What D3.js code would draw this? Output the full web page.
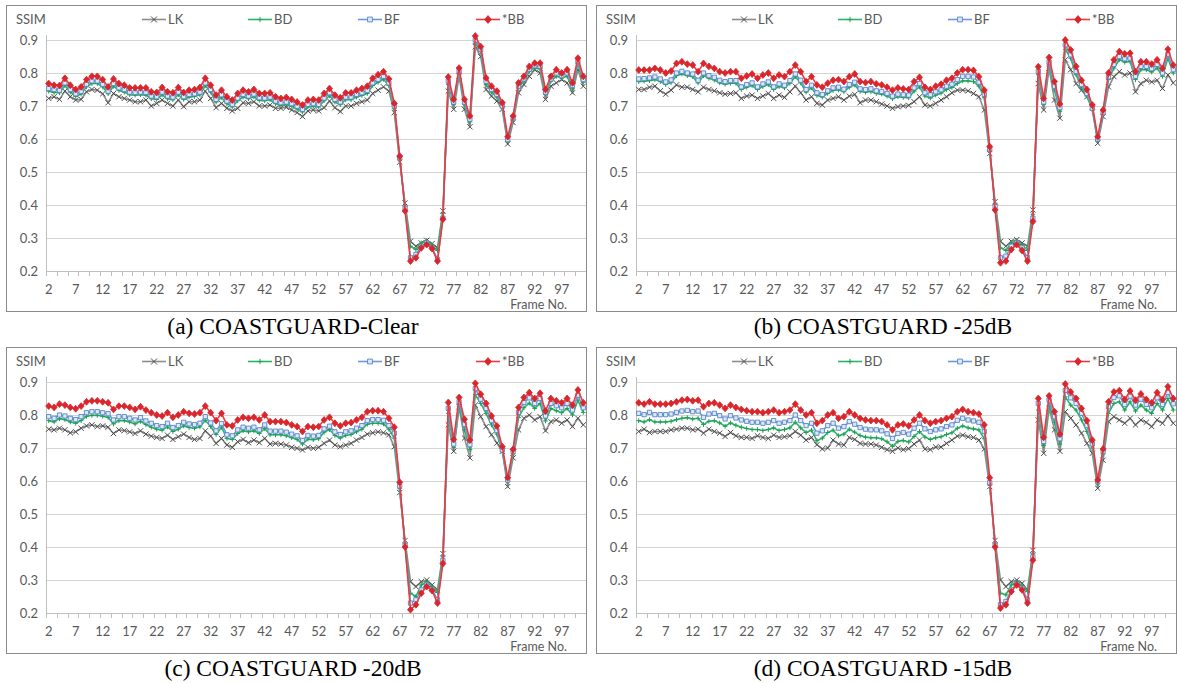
<!DOCTYPE html>
<html>
<head>
<meta charset="utf-8">
<script src="https://cdn.jsdelivr.net/npm/d3@7"></script>
<style>
  body { margin: 0; background: #fff; }
  svg { display: block; }
  .lbl { font-family: Lato, "Open Sans", sans-serif; font-size: 13px; fill: #595959; }
  .caption { font-family: "Liberation Serif", "Times New Roman", serif; font-size: 23.5px; fill: #000; }
</style>
</head>
<body>
<svg id="chart" width="1177" height="683"></svg>
<script>
// frames on the category axis
const frames = d3.range(2, 102);
const xTickLabels = [2, 7, 12, 17, 22, 27, 32, 37, 42, 47, 52, 57, 62, 67, 72, 77, 82, 87, 92, 97];
const yTicks = [0.2, 0.3, 0.4, 0.5, 0.6, 0.7, 0.8, 0.9];
const seriesNames = ['LK', 'BD', 'BF', '*BB'];
const captions = ['(a) COASTGUARD-Clear', '(b) COASTGUARD -25dB', '(c) COASTGUARD -20dB', '(d) COASTGUARD -15dB'];

// ---- (a) Clear
const lkA = [.723,.728,.720,.745,.728,.718,.720,.743,.750,.748,
  .737,.710,.738,.728,.723,.718,.713,.713,.718,.700,
  .708,.718,.708,.700,.718,.698,.713,.713,.718,.745,
  .723,.695,.708,.693,.685,.693,.710,.708,.713,.700,
  .700,.703,.693,.693,.696,.688,.680,.668,.685,.688,
  .685,.695,.715,.695,.683,.700,.700,.708,.713,.718,
  .738,.748,.758,.745,.680,.530,.406,.290,.275,.285,
  .293,.283,.270,.382,.745,.690,.790,.690,.637,.880,
  .850,.750,.730,.715,.690,.585,.650,.740,.765,.790,
  .810,.800,.720,.760,.770,.780,.770,.740,.810,.760];
const bdA = [.745,.741,.740,.762,.742,.729,.736,.758,.768,.768,
  .758,.737,.760,.747,.742,.734,.733,.734,.733,.722,
  .720,.734,.722,.719,.734,.720,.727,.729,.734,.762,
  .742,.712,.726,.707,.697,.716,.727,.722,.728,.717,
  .716,.719,.707,.702,.704,.699,.691,.682,.697,.699,
  .697,.716,.731,.712,.704,.719,.719,.727,.732,.738,
  .762,.772,.781,.762,.693,.540,.395,.275,.265,.285,
  .292,.278,.262,.375,.765,.705,.800,.705,.652,.890,
  .865,.765,.742,.727,.695,.595,.660,.755,.775,.805,
  .815,.812,.735,.775,.790,.785,.790,.752,.828,.772];
const bfA = [.753,.750,.748,.770,.750,.737,.744,.766,.776,.776,
  .766,.745,.768,.755,.750,.742,.741,.742,.741,.730,
  .728,.742,.730,.727,.742,.728,.735,.737,.742,.770,
  .750,.720,.734,.715,.705,.724,.735,.730,.736,.725,
  .724,.727,.715,.710,.712,.707,.699,.690,.705,.707,
  .705,.724,.740,.720,.712,.727,.727,.735,.740,.747,
  .770,.781,.790,.770,.700,.545,.390,.240,.250,.275,
  .285,.270,.235,.360,.775,.712,.805,.712,.660,.900,
  .872,.775,.750,.735,.700,.598,.665,.760,.782,.812,
  .822,.820,.742,.782,.800,.792,.800,.762,.835,.780];
const bbA = [.768,.763,.762,.784,.763,.750,.758,.780,.790,.790,
  .780,.758,.782,.768,.763,.755,.755,.755,.755,.743,
  .741,.756,.743,.740,.756,.741,.748,.750,.756,.784,
  .763,.733,.748,.728,.718,.738,.748,.743,.750,.738,
  .738,.740,.728,.723,.726,.720,.712,.703,.718,.720,
  .718,.738,.753,.733,.725,.740,.740,.748,.753,.760,
  .784,.795,.804,.782,.708,.548,.382,.230,.240,.270,
  .280,.268,.230,.357,.788,.720,.815,.720,.670,.912,
  .880,.785,.760,.745,.710,.607,.670,.770,.790,.820,
  .830,.830,.750,.790,.810,.800,.810,.770,.845,.790];

// ---- (b) -25dB
const lkB = [.750,.750,.757,.760,.746,.736,.748,.764,.757,.757,
  .750,.743,.757,.750,.746,.740,.736,.738,.740,.723,
  .730,.733,.723,.730,.738,.723,.733,.726,.743,.760,
  .740,.718,.728,.708,.703,.718,.723,.728,.718,.730,
  .735,.710,.718,.718,.713,.706,.700,.693,.698,.700,
  .702,.713,.728,.703,.700,.708,.718,.728,.740,.748,
  .748,.746,.738,.728,.688,.556,.410,.290,.275,.290,
  .295,.285,.275,.385,.768,.688,.814,.718,.663,.840,
  .810,.768,.748,.728,.698,.587,.668,.758,.789,.804,
  .794,.800,.743,.768,.778,.773,.778,.753,.794,.770];
const bdB = [.774,.775,.777,.780,.774,.765,.771,.792,.797,.792,
  .789,.770,.792,.784,.779,.770,.766,.769,.769,.750,
  .757,.762,.750,.759,.765,.750,.759,.755,.769,.789,
  .770,.742,.755,.732,.727,.738,.747,.749,.743,.757,
  .764,.744,.742,.744,.738,.736,.730,.722,.728,.726,
  .725,.745,.758,.730,.724,.733,.739,.750,.756,.768,
  .776,.776,.774,.760,.725,.565,.400,.270,.262,.285,
  .292,.280,.262,.372,.795,.705,.825,.748,.684,.872,
  .845,.795,.755,.730,.688,.595,.675,.780,.815,.840,
  .833,.835,.780,.810,.810,.803,.815,.790,.845,.800];
const bfB = [.782,.783,.785,.788,.782,.773,.779,.800,.805,.800,
  .797,.778,.800,.792,.787,.778,.774,.777,.777,.758,
  .765,.770,.758,.767,.773,.758,.767,.763,.777,.797,
  .778,.750,.763,.740,.735,.746,.755,.757,.751,.765,
  .772,.752,.750,.752,.746,.744,.738,.730,.736,.734,
  .733,.755,.768,.740,.734,.743,.749,.760,.766,.780,
  .790,.790,.788,.772,.735,.570,.395,.240,.245,.275,
  .285,.270,.240,.360,.805,.712,.833,.760,.695,.885,
  .855,.805,.765,.738,.693,.600,.680,.788,.826,.850,
  .843,.845,.790,.820,.820,.813,.826,.800,.857,.810];
const bbB = [.809,.809,.809,.814,.809,.800,.806,.829,.834,.827,
  .824,.804,.829,.820,.814,.804,.800,.804,.804,.784,
  .791,.797,.784,.794,.800,.784,.794,.789,.804,.824,
  .804,.774,.789,.764,.757,.769,.778,.780,.774,.789,
  .797,.774,.771,.774,.767,.764,.757,.748,.755,.752,
  .750,.774,.787,.757,.750,.760,.766,.778,.784,.800,
  .810,.810,.808,.789,.748,.577,.385,.225,.230,.265,
  .280,.262,.230,.350,.819,.723,.847,.774,.706,.900,
  .870,.820,.778,.750,.703,.607,.688,.800,.840,.865,
  .858,.860,.804,.834,.834,.827,.840,.814,.872,.824];

// ---- (c) -20dB
const lkC = [.757,.755,.760,.755,.746,.749,.760,.767,.770,.765,
  .767,.763,.744,.755,.753,.749,.744,.752,.742,.736,
  .732,.729,.739,.726,.734,.742,.732,.726,.729,.752,
  .736,.714,.729,.709,.702,.719,.726,.716,.724,.716,
  .729,.712,.714,.712,.709,.702,.699,.694,.702,.699,
  .702,.714,.724,.709,.704,.709,.714,.724,.732,.742,
  .746,.749,.746,.740,.704,.565,.420,.295,.280,.295,
  .300,.285,.270,.380,.770,.690,.825,.730,.670,.830,
  .795,.765,.740,.715,.690,.583,.670,.755,.790,.800,
  .785,.795,.752,.780,.785,.775,.785,.765,.790,.770];
const bdC = [.783,.779,.789,.786,.779,.775,.783,.796,.799,.799,
  .796,.793,.773,.783,.783,.779,.773,.781,.771,.763,
  .757,.754,.764,.750,.757,.767,.762,.760,.764,.784,
  .765,.741,.763,.729,.726,.744,.752,.749,.752,.744,
  .759,.740,.740,.740,.737,.731,.726,.712,.727,.725,
  .728,.748,.756,.738,.730,.738,.741,.749,.757,.772,
  .775,.775,.773,.757,.730,.578,.410,.260,.250,.285,
  .295,.280,.262,.372,.805,.702,.825,.755,.695,.862,
  .835,.805,.770,.742,.690,.598,.682,.792,.822,.836,
  .820,.835,.782,.820,.813,.807,.820,.800,.845,.808];
const bfC = [.795,.790,.800,.797,.790,.786,.795,.807,.810,.810,
  .807,.804,.785,.795,.795,.790,.785,.792,.782,.775,
  .768,.765,.775,.762,.768,.778,.773,.771,.775,.795,
  .776,.752,.774,.740,.737,.755,.763,.760,.763,.755,
  .770,.751,.751,.751,.748,.742,.737,.723,.738,.736,
  .738,.758,.766,.749,.741,.749,.752,.760,.768,.783,
  .786,.786,.784,.768,.745,.585,.405,.230,.240,.270,
  .285,.272,.240,.360,.820,.712,.840,.772,.710,.880,
  .848,.820,.783,.753,.694,.603,.690,.808,.838,.852,
  .835,.850,.797,.835,.828,.822,.835,.815,.860,.822];
const bbC = [.827,.823,.833,.830,.823,.819,.827,.840,.843,.843,
  .840,.837,.817,.827,.827,.823,.817,.825,.815,.807,
  .800,.797,.807,.793,.800,.810,.805,.803,.807,.827,
  .807,.783,.805,.770,.767,.785,.793,.790,.793,.785,
  .800,.780,.780,.780,.777,.770,.765,.750,.765,.763,
  .765,.785,.793,.775,.767,.775,.777,.785,.793,.810,
  .813,.813,.810,.790,.763,.596,.400,.210,.225,.260,
  .280,.268,.230,.350,.838,.726,.853,.787,.724,.896,
  .863,.835,.797,.767,.704,.610,.696,.823,.853,.868,
  .850,.866,.812,.850,.843,.837,.850,.830,.876,.837];

// ---- (d) -15dB
const lkD = [.750,.757,.747,.750,.750,.750,.755,.757,.760,.760,
  .755,.757,.745,.757,.750,.745,.735,.747,.737,.732,
  .732,.729,.737,.732,.729,.739,.732,.734,.737,.750,
  .739,.724,.732,.710,.697,.700,.724,.712,.709,.732,
  .726,.714,.712,.712,.709,.702,.695,.690,.700,.695,
  .698,.712,.724,.697,.695,.703,.703,.714,.724,.736,
  .739,.734,.732,.724,.697,.583,.420,.300,.280,.295,
  .300,.290,.270,.390,.785,.684,.820,.755,.690,.810,
  .790,.770,.745,.714,.684,.578,.663,.780,.795,.785,
  .775,.790,.770,.785,.778,.765,.785,.775,.797,.775];
const bdD = [.783,.779,.786,.779,.779,.779,.781,.786,.790,.792,
  .788,.790,.771,.781,.783,.776,.766,.776,.769,.763,
  .759,.756,.756,.753,.756,.761,.753,.756,.761,.778,
  .761,.747,.754,.722,.730,.747,.754,.737,.742,.757,
  .748,.738,.733,.731,.731,.728,.719,.705,.720,.723,
  .718,.735,.750,.733,.726,.731,.734,.741,.746,.760,
  .767,.761,.758,.755,.728,.588,.410,.260,.255,.285,
  .295,.282,.265,.380,.815,.708,.830,.778,.712,.855,
  .830,.815,.785,.750,.700,.592,.682,.805,.835,.840,
  .815,.840,.812,.830,.815,.805,.835,.815,.850,.815];
const bfD = [.805,.801,.808,.801,.801,.801,.803,.808,.812,.814,
  .810,.812,.793,.803,.805,.798,.788,.798,.791,.785,
  .781,.778,.778,.775,.778,.783,.775,.778,.783,.800,
  .783,.768,.775,.745,.752,.768,.775,.760,.765,.780,
  .772,.762,.757,.755,.755,.752,.743,.729,.744,.747,
  .742,.760,.775,.758,.750,.755,.758,.765,.770,.784,
  .790,.785,.782,.778,.750,.595,.405,.225,.235,.270,
  .288,.275,.240,.370,.835,.720,.845,.795,.728,.875,
  .852,.835,.805,.768,.712,.598,.690,.825,.853,.858,
  .832,.857,.830,.848,.832,.822,.852,.832,.868,.834];
const bbD = [.837,.833,.840,.833,.833,.833,.835,.840,.845,.847,
  .843,.845,.825,.835,.837,.830,.820,.830,.823,.817,
  .813,.810,.810,.807,.810,.815,.807,.810,.815,.833,
  .815,.800,.807,.775,.783,.800,.807,.790,.795,.810,
  .800,.790,.785,.783,.783,.780,.770,.755,.770,.773,
  .767,.785,.800,.783,.775,.780,.783,.790,.795,.810,
  .817,.810,.807,.803,.770,.610,.400,.215,.225,.265,
  .285,.270,.230,.360,.850,.732,.858,.810,.742,.894,
  .870,.850,.820,.783,.724,.603,.697,.840,.870,.874,
  .847,.873,.845,.864,.847,.837,.868,.847,.886,.850];

const panelData = [
  [lkA, bdA, bfA, bbA],
  [lkB, bdB, bfB, bbB],
  [lkC, bdC, bfC, bbC],
  [lkD, bdD, bfD, bbD]
];
const panelOrigins = [[0, 0], [590, 0], [0, 342], [590, 342]];

// marker shapes
const symTimes = { draw(c, s) { const r = Math.sqrt(s) / 2; c.moveTo(-r, -r); c.lineTo(r, r); c.moveTo(r, -r); c.lineTo(-r, r); } };
const symPlus = { draw(c, s) { const r = Math.sqrt(s) / 2; c.moveTo(-r, 0); c.lineTo(r, 0); c.moveTo(0, -r); c.lineTo(0, r); } };
const symSquare = { draw(c, s) { const r = Math.sqrt(s) / 2; c.rect(-r, -r, 2 * r, 2 * r); } };
const symDiamond = { draw(c, s) { const r = Math.sqrt(s) / 2; c.moveTo(0, -r * 1.25); c.lineTo(r * 1.1, 0); c.lineTo(0, r * 1.25); c.lineTo(-r * 1.1, 0); c.closePath(); } };

const styles = [
  { line: '#8c8c8c', mark: '#4d4d4d', fill: 'none', sym: symTimes, size: 28, sw: 1 },
  { line: '#2fb36a', mark: '#1f9e55', fill: 'none', sym: symPlus, size: 22, sw: 1 },
  { line: '#6a9ad8', mark: '#5585c8', fill: '#dfe9f6', sym: symSquare, size: 18, sw: 0.9 },
  { line: '#ee3a3f', mark: '#d9262c', fill: '#d9262c', sym: symDiamond, size: 30, sw: 0.8 }
];

const legendX = [142, 248, 358, 476];

const svg = d3.select('#chart');

const x = d3.scaleBand().domain(frames).range([46, 586]);
const y = d3.scaleLinear().domain([0.2, 0.9]).range([271, 40]);
const cx = f => x(f) + x.bandwidth() / 2;

panelData.forEach((series, pi) => {
  const [ox, oy] = panelOrigins[pi];
  const g = svg.append('g').attr('transform', `translate(${ox},${oy})`);

  // frame
  g.append('rect')
    .attr('x', 6.5).attr('y', 5.5)
    .attr('width', 580).attr('height', 306)
    .attr('fill', 'none').attr('stroke', '#8a8a8a').attr('stroke-width', 1);

  // horizontal gridlines
  g.selectAll('.grid').data(yTicks.slice(1)).join('line')
    .attr('x1', 46).attr('x2', 586)
    .attr('y1', d => Math.round(y(d)) + 0.5).attr('y2', d => Math.round(y(d)) + 0.5)
    .attr('stroke', '#d4d4d4').attr('stroke-width', 1);

  // axes lines
  g.append('line').attr('x1', 46.5).attr('x2', 46.5).attr('y1', 35).attr('y2', Math.round(y(0.2)) + 0.5)
    .attr('stroke', '#bfbfbf');
  g.append('line').attr('x1', 46).attr('x2', 586)
    .attr('y1', Math.round(y(0.2)) + 0.5).attr('y2', Math.round(y(0.2)) + 0.5)
    .attr('stroke', '#bfbfbf');

  // x tick marks
  g.selectAll('.xt').data(frames.filter((f, i) => i % 2 === 0)).join('line')
    .attr('x1', d => Math.round(x(d)) + 0.5).attr('x2', d => Math.round(x(d)) + 0.5)
    .attr('y1', Math.round(y(0.2))).attr('y2', Math.round(y(0.2)) + 5)
    .attr('stroke', '#bfbfbf');

  // y labels
  g.selectAll('.yl').data(yTicks).join('text')
    .attr('class', 'lbl')
    .attr('x', 38).attr('y', d => y(d) + 4.5)
    .attr('text-anchor', 'end')
    .text(d => d.toFixed(1));

  // x labels
  g.selectAll('.xl').data(xTickLabels).join('text')
    .attr('class', 'lbl')
    .attr('x', d => cx(d)).attr('y', 294)
    .attr('text-anchor', 'middle')
    .text(d => d);

  g.append('text').attr('class', 'lbl')
    .attr('x', 567).attr('y', 309).attr('text-anchor', 'end')
    .style('font-size', '12.5px')
    .text('Frame No.');

  g.append('text').attr('class', 'lbl')
    .attr('x', 16).attr('y', 23.5)
    .text('SSIM');

  // series
  const line = d3.line().x((d, i) => cx(frames[i])).y(d => y(d));
  series.forEach((vals, si) => {
    const st = styles[si];
    g.append('path').datum(vals)
      .attr('d', line)
      .attr('fill', 'none')
      .attr('stroke', st.line)
      .attr('stroke-width', 1.6)
      .attr('stroke-linejoin', 'round');
    g.selectAll(`.m${si}`).data(vals).join('path')
      .attr('transform', (d, i) => `translate(${cx(frames[i])},${y(d)})`)
      .attr('d', d3.symbol().type(st.sym).size(st.size))
      .attr('fill', st.fill)
      .attr('stroke', st.mark)
      .attr('stroke-width', st.sw);
  });

  // legend
  seriesNames.forEach((name, si) => {
    const st = styles[si];
    const lx = legendX[si];
    g.append('line').attr('x1', lx).attr('x2', lx + 24).attr('y1', 19.5).attr('y2', 19.5)
      .attr('stroke', st.line).attr('stroke-width', 1.6);
    g.append('path')
      .attr('transform', `translate(${lx + 12},19.5)`)
      .attr('d', d3.symbol().type(st.sym).size(st.size * 1.3))
      .attr('fill', st.fill).attr('stroke', st.mark).attr('stroke-width', st.sw);
    g.append('text').attr('class', 'lbl')
      .attr('x', lx + 26).attr('y', 24)
      .text(name);
  });

  // caption
  g.append('text').attr('class', 'caption')
    .attr('x', 293).attr('y', 334)
    .attr('text-anchor', 'middle')
    .text(captions[pi]);
});
</script>
</body>
</html>
